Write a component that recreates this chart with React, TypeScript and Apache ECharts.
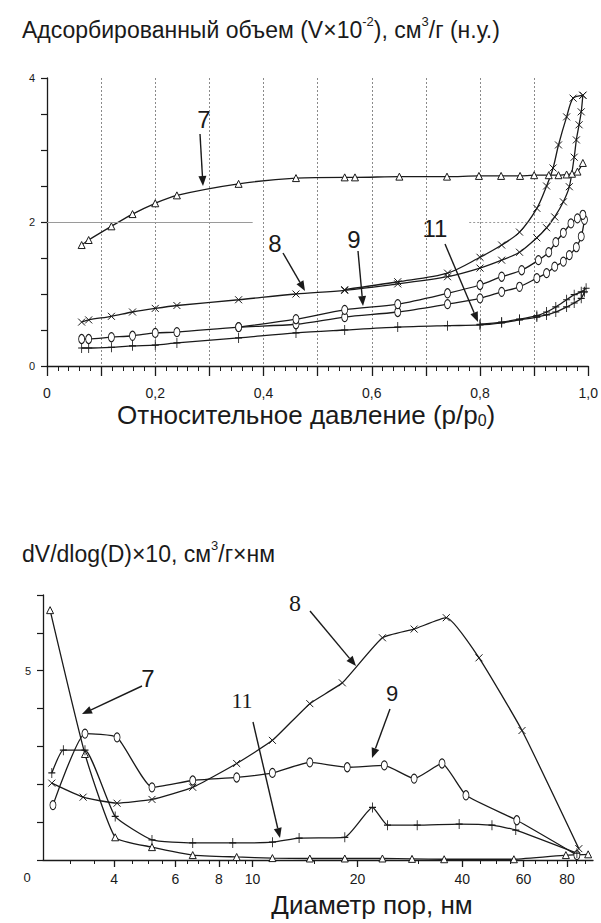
import React, { useEffect, useRef } from 'react';
import * as echarts from 'echarts';

// ---------- Top chart: adsorption isotherms (p/p0 → V×10^-2) ----------
const iso7P = [0.064, 0.077, 0.119, 0.158, 0.2, 0.24, 0.354, 0.46, 0.55, 0.569, 0.651, 0.739, 0.798, 0.839, 0.874, 0.9, 0.927, 0.945, 0.96, 0.97, 0.98, 0.99];
const iso7V = [1.68, 1.75, 1.94, 2.11, 2.26, 2.37, 2.53, 2.61, 2.62, 2.62, 2.63, 2.63, 2.64, 2.64, 2.64, 2.65, 2.65, 2.65, 2.66, 2.67, 2.7, 2.82];

const iso8AdsP = [0.064, 0.077, 0.119, 0.158, 0.2, 0.24, 0.354, 0.46, 0.55, 0.648, 0.74, 0.8, 0.84, 0.873, 0.905, 0.923, 0.938, 0.954, 0.965, 0.974, 0.978, 0.983, 0.987, 0.99];
const iso8AdsV = [0.61, 0.64, 0.69, 0.75, 0.8, 0.84, 0.92, 1.0, 1.05, 1.14, 1.24, 1.36, 1.47, 1.58, 1.78, 1.92, 2.07, 2.28, 2.49, 2.9, 3.14, 3.35, 3.53, 3.76];
const iso8DesP = [0.99, 0.972, 0.96, 0.945, 0.935, 0.923, 0.905, 0.873, 0.84, 0.8, 0.74, 0.648, 0.55];
const iso8DesV = [3.76, 3.72, 3.46, 3.07, 2.75, 2.5, 2.19, 1.86, 1.68, 1.51, 1.29, 1.17, 1.06];

const iso9AdsP = [0.064, 0.077, 0.119, 0.158, 0.2, 0.24, 0.354, 0.46, 0.55, 0.648, 0.74, 0.8, 0.84, 0.873, 0.905, 0.923, 0.938, 0.954, 0.965, 0.978, 0.987, 0.993];
const iso9AdsV = [0.375, 0.375, 0.4, 0.42, 0.46, 0.47, 0.54, 0.58, 0.68, 0.75, 0.86, 0.94, 1.03, 1.1, 1.22, 1.29, 1.38, 1.45, 1.54, 1.65, 1.8, 2.03];
const iso9DesP = [0.99, 0.98, 0.968, 0.954, 0.94, 0.927, 0.908, 0.877, 0.84, 0.8, 0.74, 0.648, 0.55, 0.46, 0.354];
const iso9DesV = [2.1, 2.05, 1.98, 1.85, 1.72, 1.58, 1.47, 1.33, 1.24, 1.125, 1.01, 0.86, 0.78, 0.65, 0.54];

const iso11AdsP = [0.064, 0.077, 0.119, 0.158, 0.2, 0.24, 0.354, 0.46, 0.55, 0.648, 0.74, 0.8, 0.84, 0.873, 0.905, 0.923, 0.94, 0.96, 0.974, 0.987, 0.993];
const iso11AdsV = [0.25, 0.25, 0.26, 0.28, 0.29, 0.32, 0.39, 0.46, 0.5, 0.54, 0.56, 0.57, 0.6, 0.64, 0.68, 0.71, 0.75, 0.82, 0.875, 0.94, 1.03];
const iso11DesP = [0.996, 0.987, 0.974, 0.96, 0.94, 0.923, 0.905, 0.873, 0.84, 0.8];
const iso11DesV = [1.08, 1.03, 0.99, 0.92, 0.82, 0.75, 0.7, 0.65, 0.61, 0.58];

// ---------- Bottom chart: pore size distribution (D, nm → dV/dlogD×10) ----------
const pd7D = [2.62, 3.3, 4.03, 5.14, 6.73, 9.0, 11.4, 14.6, 18.4, 23.6, 28.7, 35.5, 56.3, 79.4, 92];
const pd7V = [6.6, 2.8, 0.6, 0.34, 0.13, 0.08, 0.05, 0.04, 0.04, 0.04, 0.03, 0.02, 0.02, 0.13, 0.15];

const pd8D = [2.65, 3.26, 4.08, 5.14, 6.73, 9.0, 11.4, 14.6, 18.1, 23.6, 29.1, 36.0, 44.7, 59.4, 86.5];
const pd8V = [2.03, 1.66, 1.5, 1.6, 1.92, 2.55, 3.16, 4.13, 4.68, 5.87, 6.1, 6.4, 5.34, 3.42, 0.3];

const pd9D = [2.67, 3.3, 4.08, 5.14, 6.73, 9.0, 11.4, 14.6, 18.7, 23.9, 29.1, 35.0, 41.0, 57.4, 85.4];
const pd9V = [1.45, 3.34, 3.24, 1.92, 2.1, 2.18, 2.3, 2.58, 2.45, 2.5, 2.15, 2.55, 1.71, 1.05, 0.13];

const pd11D = [2.65, 2.86, 3.3, 4.03, 5.14, 6.73, 8.77, 11.4, 13.6, 18.4, 22.1, 24.4, 29.7, 39.2, 48.7, 57.0, 85.4];
const pd11V = [2.3, 2.9, 2.9, 1.15, 0.53, 0.45, 0.45, 0.47, 0.58, 0.6, 1.39, 0.92, 0.92, 0.95, 0.92, 0.79, 0.18];

const diamMajorTicks = [4, 6, 8, 10, 20, 40, 60, 80];
const diamMinorTicks = [3, 3.5, 4.5, 5, 5.5, 6.5, 7, 7.5, 8.5, 9, 9.5, 15, 30, 45, 50, 55, 65, 70, 75, 85, 90];

const FONT = '"Liberation Sans", Arial, Helvetica, sans-serif';
const SERIF = '"Liberation Serif", "Times New Roman", serif';
const INK = '#1a1a1a';

const SYM_X = 'path://M0,0L10,10M10,0L0,10';
const SYM_PLUS = 'path://M5,0L5,12M1,6L9,6';

const zip = (xs: number[], ys: number[]) => xs.map((x, i) => [x, ys[i]]);

function lineSeries(xs: number[], ys: number[], symbol: string, size: any, xi: number, yi: number, smooth: number, extra: any = {}) {
  return {
    type: 'line',
    xAxisIndex: xi,
    yAxisIndex: yi,
    data: zip(xs, ys),
    symbol,
    symbolSize: size,
    showSymbol: true,
    smooth,
    silent: true,
    lineStyle: { color: INK, width: 1.3 },
    itemStyle: {
      color: symbol.startsWith('path') ? 'rgba(0,0,0,0)' : '#fff',
      borderColor: INK,
      borderWidth: 1,
    },
    emphasis: { disabled: true },
    z: 3,
    ...extra,
  };
}

function arrow(x1: number, y1: number, x2: number, y2: number, head = 10, w = 4) {
  const dx = x2 - x1, dy = y2 - y1;
  const L = Math.hypot(dx, dy);
  const ux = dx / L, uy = dy / L;
  const bx = x2 - ux * head, by = y2 - uy * head;
  const px = -uy * w, py = ux * w;
  return [
    { type: 'line', silent: true, shape: { x1, y1, x2: bx, y2: by }, style: { stroke: INK, lineWidth: 1.4 } },
    { type: 'polygon', silent: true, shape: { points: [[x2, y2], [bx + px, by + py], [bx - px, by - py]] }, style: { fill: INK } },
  ];
}

function label(text: string, x: number, y: number, size: number, family = FONT) {
  return {
    type: 'text', silent: true, x, y,
    style: { text, fill: INK, font: `${size}px ${family}`, textAlign: 'center', textVerticalAlign: 'middle' },
  };
}

const mkRich = (size: number, supSize: number, lh: number) => ({
  a: { fontSize: size, fontFamily: FONT, fontWeight: 'normal', color: INK, lineHeight: lh },
  s: { fontSize: supSize, fontFamily: FONT, fontWeight: 'normal', color: INK, lineHeight: supSize + 2, verticalAlign: 'top' },
  b: { fontSize: supSize, fontFamily: FONT, fontWeight: 'normal', color: INK, lineHeight: supSize + 2, verticalAlign: 'bottom' },
});

const option: any = {
  animation: false,
  backgroundColor: '#fff',
  textStyle: { fontFamily: FONT },
  title: [
    {
      left: 22, top: 15, padding: 0,
      text: '{a|Адсорбированный объем (V×10}{s|-2}{a|), см}{s|3}{a|/г (н.у.)}',
      textStyle: { fontWeight: 'normal', rich: mkRich(23, 13, 29) },
    },
    {
      left: 22, top: 539, padding: 0,
      text: '{a|dV/dlog(D)×10, см}{s|3}{a|/г×нм}',
      textStyle: { fontWeight: 'normal', rich: mkRich(23, 13, 29) },
    },
  ],
  grid: [
    { left: 47, top: 78, width: 545, height: 288 },
    { left: 43, top: 595, width: 550, height: 265 },
  ],
  xAxis: [
    {
      gridIndex: 0, type: 'value', min: 0, max: 1, interval: 0.1, position: 'bottom',
      axisLine: { lineStyle: { color: INK, width: 1.3 } },
      axisTick: { length: 10, lineStyle: { color: INK, width: 1.3 } },
      minorTick: { show: true, splitNumber: 5, length: 5, lineStyle: { color: INK, width: 1 } },
      splitLine: { show: true, showMinLine: false, showMaxLine: false, lineStyle: { color: '#8a8a8a', type: [2, 2], width: 1 } },
      axisLabel: {
        fontSize: 14, color: INK, margin: 20, fontFamily: FONT, lineHeight: 14,
        formatter: (v: number) => {
          const k = Math.round(v * 10);
          if (k === 0) return '0';
          return k % 2 === 0 ? (k / 10).toFixed(1).replace('.', ',') : '';
        },
      },
      name: '{a|Относительное давление (p/p}{b|0}{a|)}',
      nameLocation: 'middle', nameGap: 36,
      nameTextStyle: { rich: mkRich(26, 16, 26), padding: [0, 23, 0, 0] },
    },
    {
      gridIndex: 1, type: 'log', logBase: 10, min: 2.5, max: 95, position: 'bottom',
      axisLine: { lineStyle: { color: INK, width: 1.3 } },
      axisTick: { length: 7, customValues: diamMajorTicks, lineStyle: { color: INK, width: 1.3 } },
      axisLabel: { fontSize: 14, color: INK, margin: 12, customValues: diamMajorTicks, fontFamily: FONT, lineHeight: 14 },
      splitLine: { show: false },
      minorTick: { show: false },
      name: '{a|Диаметр пор, нм}',
      nameLocation: 'middle', nameGap: 32,
      nameTextStyle: { rich: mkRich(26, 16, 26), padding: [0, 0, 0, 108] },
    },
    {
      gridIndex: 1, type: 'log', logBase: 10, min: 2.5, max: 95, position: 'bottom', offset: 0,
      axisLine: { show: false },
      axisTick: { length: 4, customValues: diamMinorTicks, lineStyle: { color: INK, width: 1 } },
      axisLabel: { show: false },
      splitLine: { show: false },
      minorTick: { show: false },
    },
  ],
  yAxis: [
    {
      gridIndex: 0, type: 'value', min: 0, max: 4, interval: 0.5,
      axisLine: { show: true, lineStyle: { color: INK, width: 1.3 } },
      axisTick: { show: true, length: 6, lineStyle: { color: INK, width: 1.2 } },
      splitLine: { show: false },
      axisLabel: {
        fontSize: 11, color: INK, margin: 12, fontFamily: FONT,
        formatter: (v: number) => (Math.abs(v % 2) < 1e-9 ? String(v) : ''),
      },
    },
    {
      gridIndex: 1, type: 'value', min: 0, max: 7, interval: 1,
      axisLine: { show: true, lineStyle: { color: INK, width: 1.3 } },
      axisTick: { show: true, length: 6, lineStyle: { color: INK, width: 1.2 } },
      splitLine: { show: false },
      axisLabel: {
        fontSize: 11, color: INK, margin: 12, fontFamily: FONT,
        formatter: (v: number) => (v === 5 ? '5' : ''),
      },
    },
  ],
  series: [
    lineSeries(iso7P, iso7V, 'triangle', 7, 0, 0, 0.3, {
      markLine: {
        silent: true, symbol: 'none', label: { show: false },
        lineStyle: { color: '#9a9a9a', type: 'solid', width: 1 },
        data: [
          [{ coord: [0, 2] }, { coord: [0.38, 2] }],
          [{ coord: [0.78, 2], lineStyle: { type: [2, 2], color: '#9a9a9a' } }, { coord: [0.95, 2] }],
        ],
      },
    }),
    lineSeries(iso8AdsP, iso8AdsV, SYM_X, 7, 0, 0, 0.3),
    lineSeries(iso8DesP, iso8DesV, SYM_X, 7, 0, 0, 0.3),
    lineSeries(iso9AdsP, iso9AdsV, 'circle', [6, 9], 0, 0, 0.3),
    lineSeries(iso9DesP, iso9DesV, 'circle', [6, 9], 0, 0, 0.3),
    lineSeries(iso11AdsP, iso11AdsV, SYM_PLUS, [7, 10], 0, 0, 0.3),
    lineSeries(iso11DesP, iso11DesV, SYM_PLUS, [7, 10], 0, 0, 0.3),

    lineSeries(pd7D, pd7V, 'triangle', 7, 1, 1, 0.15),
    lineSeries(pd8D, pd8V, SYM_X, 7, 1, 1, 0.15),
    lineSeries(pd9D, pd9V, 'circle', [6, 9], 1, 1, 0.15),
    lineSeries(pd11D, pd11V, SYM_PLUS, [7, 10], 1, 1, 0.15),
  ],
  graphic: [
    // top chart annotations
    label('7', 204, 119, 24),
    ...arrow(200, 134, 203, 186),
    label('8', 275, 243, 24),
    ...arrow(283, 253, 305, 291),
    label('9', 354, 239, 24),
    ...arrow(358, 251, 363, 306),
    label('11', 435, 228, 24),
    ...arrow(445, 244, 478, 322),
    // bottom chart annotations
    label('0', 27, 877, 13),
    label('7', 148, 678, 24),
    ...arrow(142, 686, 82, 714),
    label('8', 295, 603, 24, SERIF),
    ...arrow(310, 611, 356, 666),
    label('9', 392, 693, 22),
    ...arrow(390, 709, 372, 758),
    label('11', 242, 700, 22, SERIF),
    ...arrow(253, 722, 280, 838),
  ],
};

export default function App() {
  const ref = useRef<HTMLDivElement>(null);
  useEffect(() => {
    const chart = echarts.init(ref.current!, null, { renderer: 'svg' });
    chart.setOption(option);
    return () => chart.dispose();
  }, []);
  return (
    <div
      ref={ref}
      style={{ position: 'fixed', left: 0, top: 0, width: 601, height: 923, background: '#fff' }}
    />
  );
}
